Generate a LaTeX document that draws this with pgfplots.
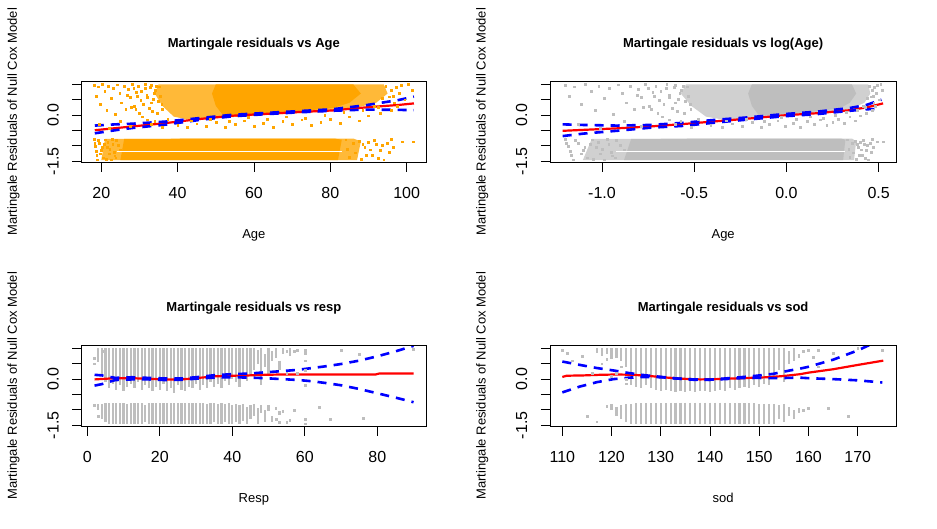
\documentclass[border=0pt]{standalone}
\usepackage{fontspec}
\setmainfont{Liberation Sans}
\usepackage{pgfplots}
\usepackage{pgfplotstable}
\pgfplotsset{compat=1.18}

\definecolor{rorange}{HTML}{FFA500}
\definecolor{rgray}{HTML}{BEBEBE}
\definecolor{rred}{HTML}{FF0000}
\definecolor{rblue}{HTML}{0000FF}

\newcommand\tickfont{\fontsize{16}{18}\selectfont}
\newcommand\labfont{\fontsize{13}{15}\selectfont}

% age data (shared by the Age and log(Age) panels)
\pgfplotstableread{
age res
35 1.0
94 1.0
95 0.7
92 0.4
86 0.22
80 0.13
70 0.05
60 -0.02
50 -0.1
43 -0.15
39 -0.05
36 0.3
34 0.7
}\upHalo
\pgfplotstableread{
age res
50 1.0
86 1.0
88 0.7
85 0.4
81 0.24
74 0.15
65 0.07
57 0.02
52 -0.02
50 0.3
49 0.7
}\upCore
\pgfplotstableread{
age res
21 -0.77
86 -0.76
88 -0.85
87 -1.46
20 -1.46
}\loHalo
\pgfplotstableread{
age res
26 -0.77
81 -0.76
83 -0.8
82 -1.46
25 -1.46
}\loCore
\pgfplotstableread{
age res
24 -1.19
83 -1.19
}\loGap
\pgfplotstableread{
age res
18.2 0.98
18.6 0.62
19.1 0.92
19.8 0.35
20.3 1.00
20.9 0.78
21.4 0.15
21.8 0.95
22.5 0.55
23.1 0.88
23.6 0.02
24.2 0.99
24.8 0.70
25.3 0.40
25.9 0.93
26.4 0.18
27.0 0.84
27.5 0.58
28.1 1.00
28.6 0.30
29.2 0.75
29.7 0.95
30.3 0.48
30.8 -0.05
31.4 0.88
31.9 0.66
32.5 0.22
33.0 0.97
33.6 0.52
34.1 0.80
34.7 0.05
35.2 0.92
35.8 0.36
28.5 0.88
29.5 0.62
30.5 0.78
31.0 0.35
31.5 1.00
32.0 0.58
32.8 0.90
33.3 0.12
33.8 0.72
34.4 0.95
34.9 0.45
35.4 0.62
35.9 0.18
29.0 0.20
30.0 0.05
32.0 -0.15
34.0 -0.20
33.0 0.40
27.8 0.25
26.8 0.65
37.4 -0.12
19.5 -0.30
22.0 -0.42
25.0 -0.20
27.5 -0.35
33.0 -0.30
36.0 -0.38
40.0 -0.32
42.5 -0.40
45.0 -0.28
47.5 -0.35
50.0 -0.22
52.5 -0.38
55.0 -0.30
57.5 -0.18
60.0 -0.35
62.5 -0.25
65.0 -0.40
67.5 -0.20
70.0 -0.30
72.5 -0.15
75.0 -0.33
77.5 -0.22
80.0 -0.12
82.5 -0.27
85.0 -0.05
87.5 -0.18
90.0 -0.02
43.5 -0.18
48.5 -0.12
53.5 -0.20
58.5 -0.08
63.5 -0.12
68.5 -0.05
73.5 -0.10
78.5 0.00
83.5 0.10
88.5 0.15
91.5 0.30
92.5 0.25
93.5 0.55
94.5 0.95
95.5 0.60
96.0 0.82
96.8 0.40
97.2 0.90
98.0 0.70
96.5 0.62
97.5 0.28
98.5 0.97
99.5 0.50
100.5 1.00
101.5 0.82
93.0 0.05
96.0 0.15
18.2 -0.78
18.5 -1.02
18.8 -1.31
19.0 -1.45
19.5 -0.90
20.0 -1.15
20.5 -1.38
21.0 -0.80
21.5 -1.05
22.0 -1.25
22.5 -1.45
23.0 -0.95
23.5 -1.32
24.0 -0.82
25.0 -1.12
26.0 -1.40
18.3 -0.90
18.7 -1.18
19.2 -0.82
19.8 -1.25
20.2 -1.05
20.8 -0.95
21.2 -1.42
21.7 -0.88
22.2 -1.10
22.8 -0.78
23.3 -1.20
23.8 -1.38
24.5 -0.98
84.0 -0.80
84.5 -1.10
85.0 -1.36
86.0 -0.92
86.5 -1.22
87.5 -0.84
88.0 -1.42
89.0 -1.05
90.0 -0.88
91.0 -1.30
92.0 -0.95
93.0 -1.15
94.0 -1.45
95.0 -0.90
96.5 -1.05
98.8 -0.86
101.7 -0.86
88.5 -0.95
89.5 -1.30
90.5 -1.12
91.5 -0.82
92.5 -1.40
93.5 -0.98
95.5 -1.20
96.0 -0.78
}\agePts

\pgfplotsset{
  mart/.style={
    scale only axis, width=344.3pt, height=81.3pt,
    ymin=-1.532, ymax=1.107,
    axis on top,
    axis line style={line width=0.9pt},
    tick style={black, line width=0.9pt},
    major tick length=9.5pt, tick align=outside,
    xtick pos=bottom, ytick pos=left,
    ytick={-1.5,-1,-0.5,0,0.5,1},
    yticklabels={-1.5,{},{},0.0,{},{}},
    yticklabel style={rotate=90, anchor=south, font=\tickfont},
    yticklabel shift=10pt,
    xticklabel style={anchor=north, font=\tickfont},
    xticklabel shift=12pt,
    ylabel={Martingale Residuals of Null Cox Model},
    every axis y label/.style={at={([xshift=-64.7pt]axis description cs:0,0.5)}, rotate=90, anchor=base, font=\labfont},
    every axis x label/.style={at={([yshift=-76pt]axis description cs:0.5,0)}, anchor=base, font=\labfont},
    every axis title/.style={at={([yshift=34pt]axis description cs:0.5,1)}, anchor=base, font=\bfseries\labfont},
    unbounded coords=jump,
  },
  pts/.style={only marks, mark=square*, mark size=0.9pt},
  stripe/.style={rgray, line width=2.2pt},
  fit/.style={rred, line width=2.2pt},
  band/.style={rblue, line width=2.6pt, dash pattern=on 9pt off 7pt},
}

\begin{document}
\begin{tikzpicture}
\useasboundingbox (0,0) rectangle (937pt,-528pt);

% ---------- Age ----------
\begin{axis}[mart, at={(81.7pt,-81pt)}, anchor=north west,
  xmin=14.87, xmax=105.06,
  xtick={20,40,60,80,100}, xticklabels={20,40,60,80,100},
  title={Martingale residuals vs Age}, xlabel={Age}]
\addplot[fill=rorange!78!white, draw=none] table[x=age, y=res] {\upHalo};
\addplot[fill=rorange!78!white, draw=none] table[x=age, y=res] {\loHalo};
\addplot[fill=rorange, draw=none] table[x=age, y=res] {\upCore};
\addplot[fill=rorange, draw=none] table[x=age, y=res] {\loCore};
\addplot[white, line width=0.9pt] table[x=age, y=res] {\loGap};
\addplot[pts, rorange] table[x=age, y=res] {\agePts};
\addplot[fit] coordinates {(18.3,-0.49) (28,-0.37) (36.8,-0.26) (45.5,-0.13) (54.3,-0.02) (63,0.04) (71.7,0.1) (80.5,0.15) (89.2,0.25) (97.9,0.33) (101.9,0.38)};
\addplot[band] coordinates {(18.3,-0.34) (23.7,-0.3) (28,-0.28) (36.8,-0.21) (45.5,-0.1) (54.3,0.01) (63,0.07) (71.7,0.13) (80.5,0.19) (89.2,0.32) (97.9,0.49) (101.9,0.6)};
\addplot[band] coordinates {(18.3,-0.59) (23.7,-0.49) (28,-0.42) (36.8,-0.31) (45.5,-0.16) (54.3,-0.04) (63,0.03) (71.7,0.09) (80.5,0.14) (89.2,0.18) (97.9,0.17) (101.9,0.16)};
\end{axis}

% ---------- log(Age) ----------
\begin{axis}[mart, at={(550.3pt,-81pt)}, anchor=north west, width=345.7pt,
  xmin=-1.28, xmax=0.594,
  xtick={-1,-0.5,0,0.5}, xticklabels={-1.0,-0.5,0.0,0.5},
  title={Martingale residuals vs log(Age)}, xlabel={Age}]
\addplot[fill=rgray!72!white, draw=none] table[x expr={ln(\thisrow{age}/60.3)}, y=res] {\upHalo};
\addplot[fill=rgray!72!white, draw=none] table[x expr={ln(\thisrow{age}/60.3)}, y=res] {\loHalo};
\addplot[fill=rgray, draw=none] table[x expr={ln(\thisrow{age}/60.3)}, y=res] {\upCore};
\addplot[fill=rgray, draw=none] table[x expr={ln(\thisrow{age}/60.3)}, y=res] {\loCore};
\addplot[white, line width=0.9pt] table[x expr={ln(\thisrow{age}/60.3)}, y=res] {\loGap};
\addplot[pts, rgray] table[x expr={ln(\thisrow{age}/60.3)}, y=res] {\agePts};
\addplot[fit] coordinates {(-1.213,-0.51) (-0.92,-0.43) (-0.74,-0.37) (-0.56,-0.29) (-0.38,-0.2) (-0.2,-0.11) (-0.02,-0.01) (0.163,0.06) (0.343,0.16) (0.434,0.25) (0.524,0.38)};
\addplot[band] coordinates {(-1.213,-0.3) (-1.1,-0.32) (-0.92,-0.34) (-0.74,-0.32) (-0.56,-0.25) (-0.38,-0.15) (-0.2,-0.07) (-0.02,0.03) (0.163,0.11) (0.343,0.23) (0.434,0.33) (0.515,0.5)};
\addplot[band] coordinates {(-1.213,-0.68) (-1.1,-0.6) (-0.92,-0.51) (-0.74,-0.41) (-0.56,-0.35) (-0.38,-0.24) (-0.2,-0.14) (-0.02,-0.04) (0.163,0.03) (0.343,0.14) (0.434,0.19) (0.515,0.2)};
\end{axis}

% ---------- resp ----------
\begin{axis}[mart, at={(81.7pt,-345pt)}, anchor=north west,
  xmin=-1.545, xmax=93.43,
  xtick={0,20,40,60,80}, xticklabels={0,20,40,60,80},
  title={Martingale residuals vs resp}, xlabel={Resp}]
\addplot[stripe] coordinates {
(3,1.0)(3,0.55)(3,nan)(3,-0.8)(3,-1.0)(3,nan)
(4,1.0)(4,0.1)(4,nan)(4,-0.8)(4,-1.3)(4,nan)
(5,1.0)(5,-0.1)(5,nan)(5,-0.78)(5,-1.4)(5,nan)
(6,1.0)(6,-0.3)(6,nan)(6,-0.78)(6,-1.45)(6,nan)
(7,1.0)(7,-0.15)(7,nan)(7,-0.78)(7,-1.45)(7,nan)
(8,1.0)(8,-0.35)(8,nan)(8,-0.78)(8,-1.45)(8,nan)
(9,1.0)(9,-0.2)(9,nan)(9,-0.78)(9,-1.45)(9,nan)
(10,1.0)(10,-0.4)(10,nan)(10,-0.78)(10,-1.45)(10,nan)
(11,1.0)(11,-0.25)(11,nan)(11,-0.8)(11,-1.45)(11,nan)
(12,1.0)(12,-0.15)(12,nan)(12,-0.78)(12,-1.45)(12,nan)
(13,1.0)(13,-0.3)(13,nan)(13,-0.78)(13,-1.45)(13,nan)
(14,1.0)(14,-0.1)(14,nan)(14,-0.78)(14,-1.45)(14,nan)
(15,1.0)(15,-0.35)(15,nan)(15,-0.78)(15,-1.45)(15,nan)
(16,1.0)(16,-0.2)(16,nan)(16,-0.85)(16,-1.4)(16,nan)
(17,1.0)(17,-0.3)(17,nan)(17,-0.78)(17,-1.45)(17,nan)
(18,1.0)(18,-0.4)(18,nan)(18,-0.78)(18,-1.45)(18,nan)
(19,1.0)(19,-0.25)(19,nan)(19,-0.78)(19,-1.45)(19,nan)
(20,1.0)(20,-0.35)(20,nan)(20,-0.78)(20,-1.45)(20,nan)
(21,1.0)(21,-0.15)(21,nan)(21,-0.78)(21,-1.45)(21,nan)
(22,1.0)(22,-0.4)(22,nan)(22,-0.78)(22,-1.45)(22,nan)
(23,1.0)(23,-0.3)(23,nan)(23,-0.78)(23,-1.45)(23,nan)
(24,1.0)(24,-0.45)(24,nan)(24,-0.78)(24,-1.45)(24,nan)
(25,1.0)(25,-0.2)(25,nan)(25,-0.78)(25,-1.45)(25,nan)
(26,1.0)(26,-0.35)(26,nan)(26,-0.78)(26,-1.45)(26,nan)
(27,1.0)(27,-0.4)(27,nan)(27,-0.78)(27,-1.45)(27,nan)
(28,1.0)(28,-0.25)(28,nan)(28,-0.78)(28,-1.45)(28,nan)
(29,1.0)(29,-0.3)(29,nan)(29,-0.78)(29,-1.45)(29,nan)
(30,1.0)(30,-0.15)(30,nan)(30,-0.78)(30,-1.45)(30,nan)
(31,1.0)(31,-0.35)(31,nan)(31,-0.78)(31,-1.45)(31,nan)
(32,1.0)(32,-0.2)(32,nan)(32,-0.78)(32,-1.45)(32,nan)
(33,1.0)(33,-0.3)(33,nan)(33,-0.8)(33,-1.45)(33,nan)
(34,1.0)(34,-0.1)(34,nan)(34,-0.78)(34,-1.45)(34,nan)
(35,1.0)(35,-0.25)(35,nan)(35,-0.78)(35,-1.4)(35,nan)
(36,1.0)(36,-0.15)(36,nan)(36,-0.8)(36,-1.45)(36,nan)
(37,1.0)(37,-0.3)(37,nan)(37,-0.78)(37,-1.45)(37,nan)
(38,1.0)(38,-0.05)(38,nan)(38,-0.8)(38,-1.4)(38,nan)
(39,1.0)(39,-0.2)(39,nan)(39,-0.78)(39,-1.45)(39,nan)
(40,1.0)(40,0.0)(40,nan)(40,-0.85)(40,-1.45)(40,nan)
(41,1.0)(41,-0.1)(41,nan)(41,-0.8)(41,-1.4)(41,nan)
(42,1.0)(42,-0.25)(42,nan)(42,-0.85)(42,-1.45)(42,nan)
(43,1.0)(43,0.05)(43,nan)(43,-0.8)(43,-1.35)(43,nan)
(44,1.0)(44,-0.05)(44,nan)(44,-0.9)(44,-1.45)(44,nan)
(45,1.0)(45,0.1)(45,nan)(45,-0.85)(45,-1.3)(45,nan)
(46,1.0)(46,0.3)(46,nan)(46,-0.8)(46,-1.2)(46,nan)
(47,0.95)(47,0.5)(47,nan)(47,-0.95)(47,-1.45)(47,nan)
(48,1.0)(48,-0.2)(48,nan)(48,-0.85)(48,-1.1)(48,nan)
(49,0.8)(49,0.4)(49,nan)(49,-1.0)(49,-1.4)(49,nan)
(50,1.0)(50,0.1)(50,nan)(50,-0.85)(50,-1.05)(50,nan)
(51,0.9)(51,0.6)(51,nan)(51,-1.2)(51,-1.4)(51,nan)
(52,1.0)(52,0.7)(52,nan)(52,-0.9)(52,-1.0)(52,nan)
(53,0.6)(53,0.3)(53,nan)(53,-1.05)(53,-1.15)(53,nan)
(54,1.0)(54,0.8)(54,nan)(54,-1.0)(54,-1.1)(54,nan)
(55,0.95)(55,0.85)(55,nan)(55,-1.35)(55,-1.45)(55,nan)
(56,1.0)(56,0.75)(56,nan)(56,-1.3)(56,-1.4)(56,nan)
};
\addplot[pts, rgray] coordinates {(2,0.68) (2,0.5) (2,-0.85) (3,-1.2) (4,0.9) (57,0.9) (57,-1.0) (58,0.2) (58,0.95) (60,0.95) (60,0.85) (60,0.6) (60,0.3) (60,-0.2) (60,-1.3) (60,-1.45) (64,-0.9) (67,-1.3) (70,0.95) (75,0.82) (76,-1.27) (90,0.98) (53,-1.4) (55,0.2) (52,-1.3)};
\addplot[fit] coordinates {(2,-0.01) (7.7,0.03) (12.3,0.03) (16.9,0.01) (21.5,-0.01) (26.1,-0.01) (30.7,0.04) (35.3,0.09) (39.9,0.11) (44.5,0.12) (49.1,0.14) (53.7,0.15) (67.5,0.15) (79.5,0.15) (80.5,0.18) (90,0.18)};
\addplot[band] coordinates {(2,0.14) (4.1,0.12) (7.7,0.04) (12.3,0.06) (16.9,0.04) (21.5,0.02) (26.1,0.02) (30.7,0.07) (35.3,0.13) (39.9,0.16) (44.5,0.18) (49.1,0.22) (53.7,0.26) (58,0.3) (62,0.36) (66,0.42) (70,0.49) (75,0.6) (80,0.74) (85,0.9) (90,1.08)};
\addplot[band] coordinates {(2,-0.21) (4.1,-0.16) (7.7,-0.03) (12.3,-0.01) (16.9,-0.01) (21.5,-0.03) (26.1,-0.02) (30.7,0.02) (35.3,0.05) (39.9,0.06) (44.5,0.05) (49.1,0.03) (53.7,0.0) (58.3,-0.03) (62,-0.07) (66,-0.13) (70,-0.2) (75,-0.32) (80,-0.46) (85,-0.6) (90,-0.75)};
\end{axis}

% ---------- sod ----------
\begin{axis}[mart, at={(550.3pt,-345pt)}, anchor=north west, width=345.7pt,
  xmin=107.56, xmax=177.78,
  xtick={110,120,130,140,150,160,170}, xticklabels={110,120,130,140,150,160,170},
  title={Martingale residuals vs sod}, xlabel={sod}]
\addplot[stripe] coordinates {
(117,1.0)(117,0.85)(117,nan)
(118,1.0)(118,0.75)(118,nan)
(119,1.0)(119,0.8)(119,nan)(119,-0.85)(119,-0.95)(119,nan)
(120,1.0)(120,0.65)(120,nan)(120,-0.8)(120,-1.0)(120,nan)
(121,1.0)(121,0.7)(121,nan)(121,-0.9)(121,-1.2)(121,nan)
(122,1.0)(122,0.6)(122,nan)(122,-0.85)(122,-1.3)(122,nan)
(123,1.0)(123,0.4)(123,nan)(123,-0.8)(123,-1.4)(123,nan)
(124,1.0)(124,-0.2)(124,nan)(124,-0.8)(124,-1.45)(124,nan)
(125,1.0)(125,-0.25)(125,nan)(125,-0.78)(125,-1.45)(125,nan)
(126,1.0)(126,-0.3)(126,nan)(126,-0.78)(126,-1.45)(126,nan)
(127,1.0)(127,-0.2)(127,nan)(127,-0.78)(127,-1.45)(127,nan)
(128,1.0)(128,-0.3)(128,nan)(128,-0.78)(128,-1.45)(128,nan)
(129,1.0)(129,-0.35)(129,nan)(129,-0.78)(129,-1.45)(129,nan)
(130,1.0)(130,-0.4)(130,nan)(130,-0.78)(130,-1.45)(130,nan)
(131,1.0)(131,-0.35)(131,nan)(131,-0.78)(131,-1.45)(131,nan)
(132,1.0)(132,-0.4)(132,nan)(132,-0.76)(132,-1.45)(132,nan)
(133,1.0)(133,-0.42)(133,nan)(133,-0.76)(133,-1.45)(133,nan)
(134,1.0)(134,-0.38)(134,nan)(134,-0.76)(134,-1.45)(134,nan)
(135,1.0)(135,-0.42)(135,nan)(135,-0.76)(135,-1.45)(135,nan)
(136,1.0)(136,-0.4)(136,nan)(136,-0.76)(136,-1.45)(136,nan)
(137,1.0)(137,-0.42)(137,nan)(137,-0.76)(137,-1.45)(137,nan)
(138,1.0)(138,-0.4)(138,nan)(138,-0.76)(138,-1.45)(138,nan)
(139,1.0)(139,-0.38)(139,nan)(139,-0.76)(139,-1.45)(139,nan)
(140,1.0)(140,-0.42)(140,nan)(140,-0.76)(140,-1.45)(140,nan)
(141,1.0)(141,-0.4)(141,nan)(141,-0.76)(141,-1.45)(141,nan)
(142,1.0)(142,-0.35)(142,nan)(142,-0.76)(142,-1.45)(142,nan)
(143,1.0)(143,-0.38)(143,nan)(143,-0.76)(143,-1.45)(143,nan)
(144,1.0)(144,-0.3)(144,nan)(144,-0.78)(144,-1.45)(144,nan)
(145,1.0)(145,-0.35)(145,nan)(145,-0.78)(145,-1.45)(145,nan)
(146,1.0)(146,-0.3)(146,nan)(146,-0.78)(146,-1.45)(146,nan)
(147,1.0)(147,-0.25)(147,nan)(147,-0.78)(147,-1.45)(147,nan)
(148,1.0)(148,-0.3)(148,nan)(148,-0.78)(148,-1.45)(148,nan)
(149,1.0)(149,-0.2)(149,nan)(149,-0.78)(149,-1.45)(149,nan)
(150,1.0)(150,-0.25)(150,nan)(150,-0.8)(150,-1.45)(150,nan)
(151,1.0)(151,-0.15)(151,nan)(151,-0.8)(151,-1.45)(151,nan)
(152,1.0)(152,-0.2)(152,nan)(152,-0.8)(152,-1.45)(152,nan)
(153,1.0)(153,0.0)(153,nan)(153,-0.8)(153,-1.45)(153,nan)
(154,1.0)(154,0.3)(154,nan)(154,-0.85)(154,-1.3)(154,nan)
(155,1.0)(155,-0.1)(155,nan)(155,-0.8)(155,-1.4)(155,nan)
(156,0.9)(156,0.5)(156,nan)(156,-0.9)(156,-1.2)(156,nan)
(157,1.0)(157,0.6)(157,nan)(157,-1.0)(157,-1.3)(157,nan)
(158,0.8)(158,0.7)(158,nan)(158,-0.95)(158,-1.1)(158,nan)
};
\addplot[pts, rgray] coordinates {(110,0.93) (111,0.85) (112,0.6) (114,0.75) (115,-1.2) (116,0.2) (117,-1.38) (118,0.5) (119,0.65) (120,0.1) (121,0.2) (122,0.4) (123,0.0) (123,-0.15) (159,0.9) (159,-1.0) (160,0.95) (160,-0.94) (161,0.7) (162,0.95) (162,0.4) (164,-0.94) (165,0.85) (168,-1.21) (170,1.0) (175,0.95)};
\addplot[fit] coordinates {(110,0.07) (110.9,0.11) (114.3,0.12) (117.7,0.14) (121,0.15) (124.4,0.14) (127.8,0.1) (131.2,0.05) (134.7,0.01) (138,-0.01) (141.3,0.0) (144.7,0.02) (148.1,0.04) (151.5,0.06) (154.9,0.1) (158.3,0.16) (160,0.21) (165,0.32) (170,0.46) (175.2,0.6)};
\addplot[band] coordinates {(110,0.57) (113.6,0.46) (117,0.36) (120.4,0.28) (123.8,0.19) (127.1,0.12) (130.2,0.07) (133.2,0.02) (136.6,-0.01) (140,-0.02) (143,0.02) (146.1,0.06) (149.5,0.11) (152.8,0.17) (156.2,0.28) (158,0.33) (160,0.4) (165,0.63) (170,0.93) (175,1.3)};
\addplot[band] coordinates {(110,-0.43) (113.6,-0.24) (117,-0.1) (120.4,0.0) (123.8,0.05) (127.1,0.07) (130.2,0.06) (133.2,0.02) (136.6,-0.02) (140,-0.02) (143,0.0) (146.1,0.03) (149.5,0.04) (152.8,0.03) (156.2,0.04) (158,0.05) (160,0.03) (165,0.0) (170,-0.04) (175,-0.11)};
\end{axis}
\end{tikzpicture}
\end{document}
